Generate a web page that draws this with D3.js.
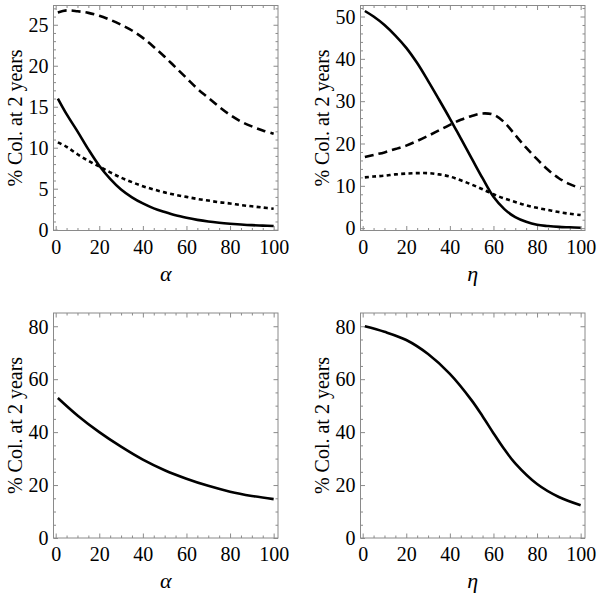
<!DOCTYPE html>
<html><head><meta charset="utf-8">
<script src="https://cdn.jsdelivr.net/npm/d3@7"></script>
</head><body style="margin:0"><svg id="c" width="600" height="598" font-family="Liberation Serif" style="font-family:'Liberation Serif'"></svg>
<script>
// ---- data ----
const alphaX = [1,5,10,15,20,25,30,35,40,45,50,55,60,65,70,75,80,85,90,95,100];
const tlDashed = [26.5,26.75,26.65,26.45,26.1,25.6,25.0,24.3,23.4,22.3,21.1,19.8,18.5,17.2,16.1,15.0,14.0,13.2,12.6,12.1,11.7];
const tlSolid  = [16.0,14.1,12.0,9.8,7.8,6.2,4.9,3.95,3.2,2.6,2.15,1.75,1.45,1.2,1.0,0.85,0.73,0.63,0.55,0.5,0.45];
const tlDotted = [10.65,10.1,9.2,8.4,7.7,7.0,6.35,5.8,5.3,4.9,4.55,4.25,4.0,3.75,3.55,3.35,3.2,3.0,2.85,2.7,2.55];

const etaX = [1,5,10,15,20,25,30,35,40,45,50,55,60,65,70,75,80,85,90,95,100];
const trSolid  = [51.3,50.0,48.0,45.5,42.6,39.0,34.8,30.4,25.9,21.2,16.5,11.8,7.4,4.5,2.6,1.5,0.8,0.5,0.3,0.2,0.1];
const trDashed = [16.8,17.3,17.9,18.7,19.5,20.6,21.8,23.1,24.4,25.6,26.5,27.1,26.8,25.0,22.0,19.0,16.3,13.8,11.8,10.4,9.4];
const trDotted = [12.0,12.2,12.4,12.7,12.9,13.0,13.0,12.7,12.2,11.3,10.3,9.2,8.0,7.0,6.2,5.4,4.8,4.3,3.8,3.4,3.1];

const blX = [1,10,20,30,40,50,60,70,80,90,100];
const blSolid = [52.9,46.3,40.0,34.5,29.6,25.6,22.4,19.7,17.5,15.9,14.7];

const brX = [1,10,20,30,40,50,55,60,65,70,80,90,100];
const brSolid = [80.0,77.9,74.8,69.5,62.0,52.0,46.0,39.6,33.5,28.2,20.4,15.5,12.4];

const xTicks = [0,20,40,60,80,100];
const yTicksTL = [0,5,10,15,20,25];
const yTicksTR = [0,10,20,30,40,50];
const yTicksB  = [0,20,40,60,80];
const yLabel = "% Col. at 2 years";

// ---- drawing ----
const svg = d3.select("#c");
const styles = {
  solid:  {dash: null},
  dashed: {dash: "9,5"},
  dotted: {dash: "4,3.3"}
};

function setFont(sel, size, italic) {
  sel.attr("font-family", "Liberation Serif")
     .style("font-family", '"Liberation Serif"')
     .attr("font-size", size);
  if (italic) sel.attr("font-style", "italic");
}

function panel(opt) {
  const {left, top, w, h, xDomain, yDomain, yMajor, yMinorStep, xName, series} = opt;
  const g = svg.append("g");
  const x = d3.scaleLinear().domain(xDomain).range([left, left + w]);
  const y = d3.scaleLinear().domain(yDomain).range([top + h, top]);
  const xMinor = d3.range(0, 101, 5).filter(v => !xTicks.includes(v));
  const yMinor = d3.range(yMajor[0], yDomain[1], yMinorStep).filter(v => !yMajor.includes(v) && v > yDomain[0]);
  const tickCol = "#8a8a8a";

  function ax(axisFn, scale, pos, vals, size, labels, pad) {
    const a = axisFn(scale).tickValues(vals).tickSizeInner(-size).tickSizeOuter(0)
      .tickPadding(pad || 0).tickFormat(labels ? d3.format("d") : "");
    const gg = g.append("g").attr("transform", pos).call(a);
    setFont(gg, 20);
    gg.select(".domain").remove();
    gg.selectAll("line").attr("stroke", tickCol).attr("stroke-width", 1);
    setFont(gg.selectAll("text").attr("fill", "#000"), 20);
    return gg;
  }
  // bottom
  ax(d3.axisBottom, x, `translate(0,${top + h})`, xTicks, 4.5, true, 9);
  ax(d3.axisBottom, x, `translate(0,${top + h})`, xMinor, 2.5, false);
  // top
  ax(d3.axisTop, x, `translate(0,${top})`, xTicks, 4.5, false);
  ax(d3.axisTop, x, `translate(0,${top})`, xMinor, 2.5, false);
  // left
  const la = ax(d3.axisLeft, y, `translate(${left},0)`, yMajor, 4.5, true, 5);
  la.selectAll("text").attr("dy", "0.34em");
  ax(d3.axisLeft, y, `translate(${left},0)`, yMinor, 2.5, false);
  // right
  ax(d3.axisRight, y, `translate(${left + w},0)`, yMajor, 4.5, false);
  ax(d3.axisRight, y, `translate(${left + w},0)`, yMinor, 2.5, false);

  g.append("rect").attr("x", left).attr("y", top).attr("width", w).attr("height", h)
    .attr("fill", "none").attr("stroke", tickCol).attr("stroke-width", 1);

  const line = d3.line().x(d => x(d[0])).y(d => y(d[1])).curve(d3.curveCatmullRom.alpha(0.5));
  series.forEach(s => {
    g.append("path").datum(s.xs.map((v, i) => [v, s.ys[i]]))
      .attr("d", line).attr("fill", "none").attr("stroke", "#000")
      .attr("stroke-width", 2.6).attr("stroke-dasharray", styles[s.style].dash);
  });

  setFont(g.append("text").attr("transform", `translate(${left - 32},${top + h / 2}) rotate(-90)`)
    .attr("text-anchor", "middle").text(yLabel), 20);
  setFont(g.append("text").attr("x", left + w / 2).attr("y", top + h + 50)
    .attr("text-anchor", "middle").text(xName), 22, true);
}

panel({left: 53.5, top: 5.5, w: 224.5, h: 225, xDomain: [-1, 102], yDomain: [-0.1, 27.35],
  yMajor: yTicksTL, yMinorStep: 1, xName: "α",
  series: [{xs: alphaX, ys: tlDashed, style: "dashed"}, {xs: alphaX, ys: tlSolid, style: "solid"}, {xs: alphaX, ys: tlDotted, style: "dotted"}]});
panel({left: 360.5, top: 5.5, w: 224.5, h: 225, xDomain: [-1, 102], yDomain: [-0.55, 52.6],
  yMajor: yTicksTR, yMinorStep: 2, xName: "η",
  series: [{xs: etaX, ys: trSolid, style: "solid"}, {xs: etaX, ys: trDashed, style: "dashed"}, {xs: etaX, ys: trDotted, style: "dotted"}]});
panel({left: 53.5, top: 313, w: 224.5, h: 225, xDomain: [-1, 102], yDomain: [0, 85],
  yMajor: yTicksB, yMinorStep: 5, xName: "α",
  series: [{xs: blX, ys: blSolid, style: "solid"}]});
panel({left: 360.5, top: 313, w: 224.5, h: 225, xDomain: [-1, 102], yDomain: [0, 85],
  yMajor: yTicksB, yMinorStep: 5, xName: "η",
  series: [{xs: brX, ys: brSolid, style: "solid"}]});
</script>
</body></html>
